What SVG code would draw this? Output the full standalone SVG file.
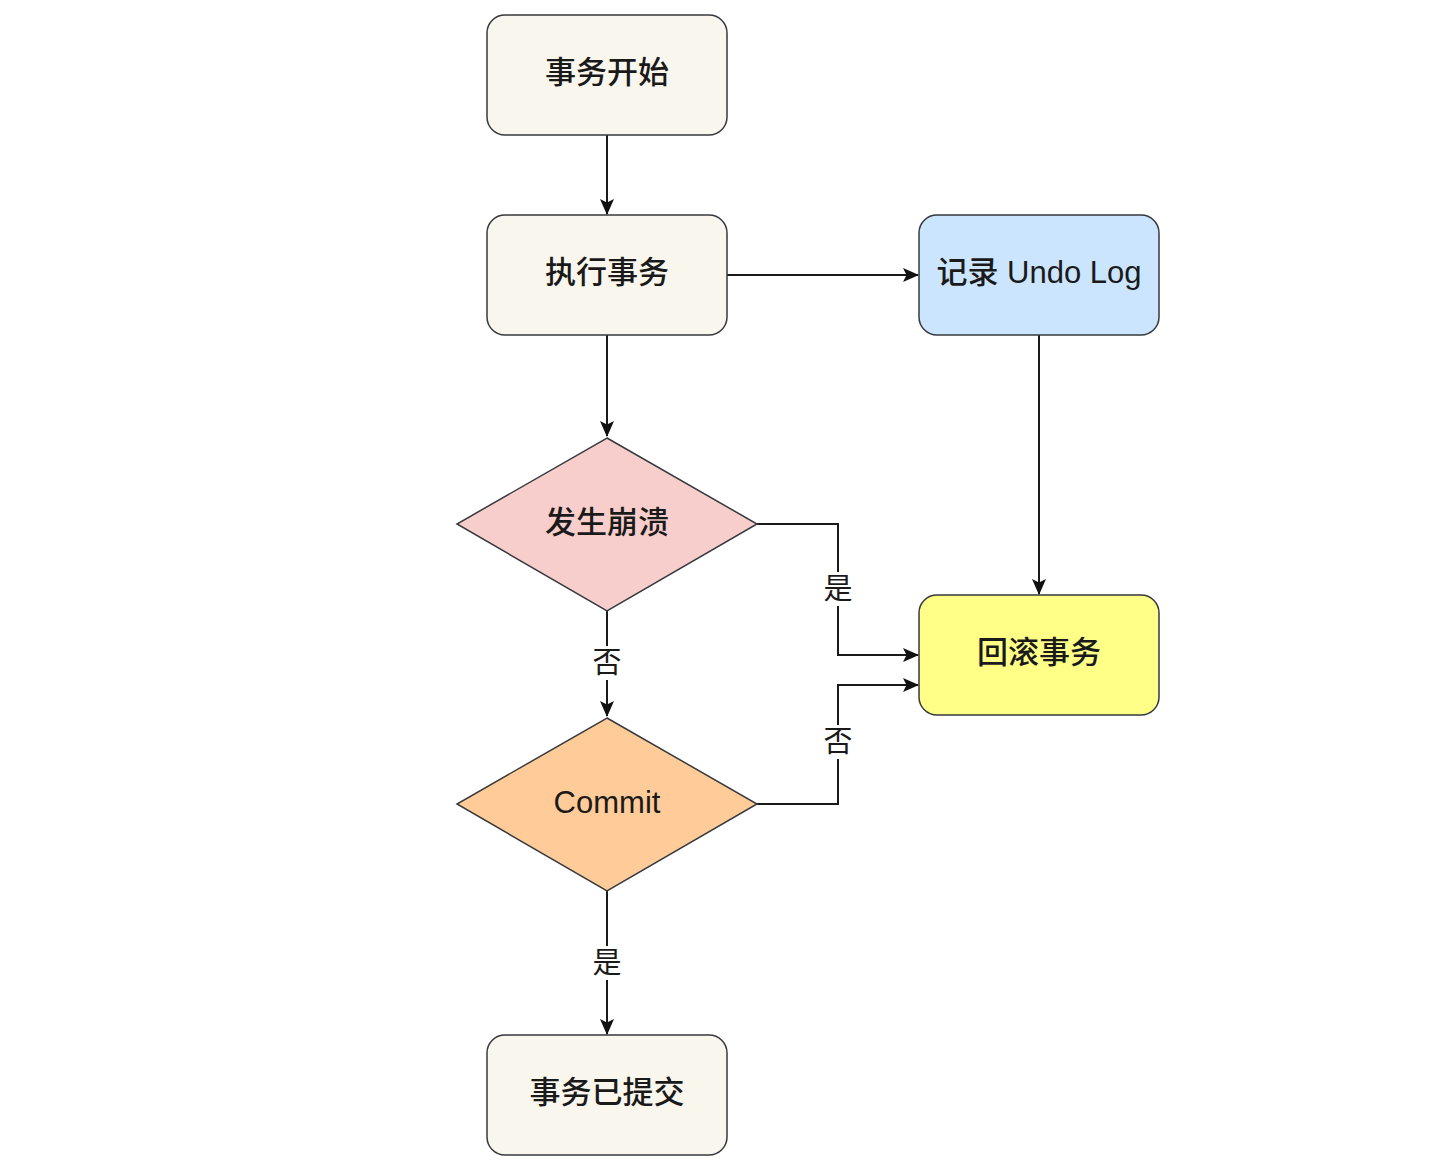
<svg xmlns="http://www.w3.org/2000/svg" width="1434" height="1172" viewBox="0 0 1434 1172">
<style>
.box{stroke:#36393d;stroke-width:1.5}
.t{font-family:"Liberation Sans","Noto Sans CJK SC",sans-serif;font-size:31px;font-weight:500;fill:#1a1a1a;text-anchor:middle;dominant-baseline:central}
.lbl{font-family:"Liberation Sans","Noto Sans CJK SC",sans-serif;font-size:29px;fill:#1a1a1a;text-anchor:middle;dominant-baseline:central}
.e{fill:none;stroke:#1a1a1a;stroke-width:2}
</style>
<defs>
<marker id="arr" viewBox="0 0 16 14" refX="15" refY="7" markerWidth="16" markerHeight="14" markerUnits="userSpaceOnUse" orient="auto">
<path d="M0,0 L16,7 L0,14 L3.5,7 Z" fill="#111111"/>
</marker>
</defs>
<rect width="1434" height="1172" fill="#ffffff"/>
<g id="connectors">
<path class="e" d="M607,135 V214" marker-end="url(#arr)"/>
<path class="e" d="M727,275 H918" marker-end="url(#arr)"/>
<path class="e" d="M607,335 V436" marker-end="url(#arr)"/>
<path class="e" d="M1039,335 V594" marker-end="url(#arr)"/>
<path class="e" d="M757,524 H838 V655 H918" marker-end="url(#arr)"/>
<path class="e" d="M607,611 V716" marker-end="url(#arr)"/>
<path class="e" d="M757,804 H838 V685 H918" marker-end="url(#arr)"/>
<path class="e" d="M607,891 V1034" marker-end="url(#arr)"/>
<rect x="822" y="572" width="32" height="34" fill="#ffffff"/>
<text class="lbl" x="838" y="589">是</text>
<rect x="591" y="646" width="32" height="34" fill="#ffffff"/>
<text class="lbl" x="607" y="663">否</text>
<rect x="822" y="725" width="32" height="34" fill="#ffffff"/>
<text class="lbl" x="838" y="742">否</text>
<rect x="591" y="946" width="32" height="34" fill="#ffffff"/>
<text class="lbl" x="607" y="963">是</text>
</g>
<g id="start">
<rect class="box" x="487" y="15" width="240" height="120" rx="18" fill="#f9f7ed"/>
<text class="t" x="607" y="72">事务开始</text>
</g>
<g id="exec">
<rect class="box" x="487" y="215" width="240" height="120" rx="18" fill="#f9f7ed"/>
<text class="t" x="607" y="272">执行事务</text>
</g>
<g id="undolog">
<rect class="box" x="919" y="215" width="240" height="120" rx="18" fill="#cce5ff"/>
<text class="t" x="1039" y="272">记录 Undo Log</text>
</g>
<g id="crash">
<polygon class="box" points="607,438 757,524 607,611 457,524" fill="#f8cecc"/>
<text class="t" x="607" y="522">发生崩溃</text>
</g>
<g id="commit">
<polygon class="box" points="607,718 757,804 607,891 457,804" fill="#ffcc99"/>
<text class="t" x="607" y="802">Commit</text>
</g>
<g id="rollback">
<rect class="box" x="919" y="595" width="240" height="120" rx="18" fill="#ffff88"/>
<text class="t" x="1039" y="652">回滚事务</text>
</g>
<g id="committed">
<rect class="box" x="487" y="1035" width="240" height="120" rx="18" fill="#f9f7ed"/>
<text class="t" x="607" y="1092">事务已提交</text>
</g>
</svg>
